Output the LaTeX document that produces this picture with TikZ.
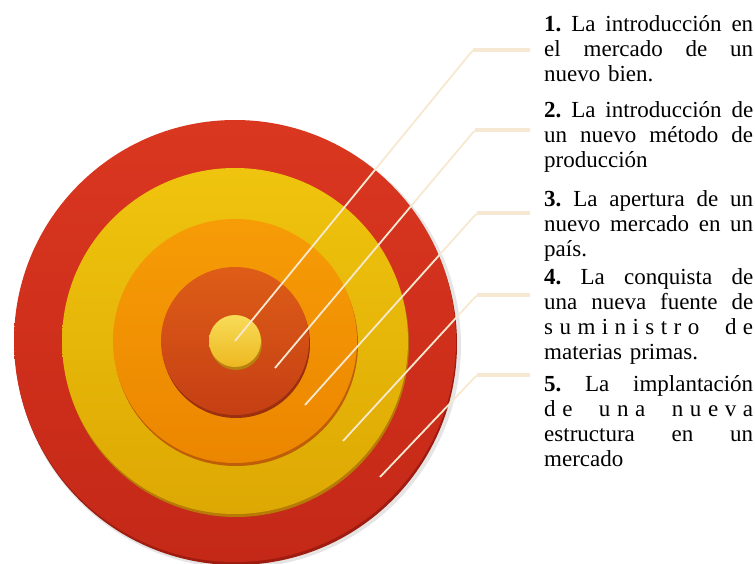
\documentclass[tikz,border=0pt]{standalone}
\usepackage{fontspec}
\setmainfont{Liberation Serif}

\definecolor{redTop}{HTML}{DA3720}
\definecolor{redBot}{HTML}{C42817}
\definecolor{redRim}{HTML}{9E1C10}
\definecolor{goldTop}{HTML}{EFC40E}
\definecolor{goldBot}{HTML}{DDA803}
\definecolor{goldRim}{HTML}{B77A06}
\definecolor{orangeTop}{HTML}{F69C06}
\definecolor{orangeBot}{HTML}{EC8600}
\definecolor{orangeRim}{HTML}{BF5E08}
\definecolor{rustTop}{HTML}{DE5D17}
\definecolor{rustBot}{HTML}{C53F14}
\definecolor{rustRim}{HTML}{9A3010}
\definecolor{dotTop}{HTML}{F8DC58}
\definecolor{dotBot}{HTML}{EDB821}
\definecolor{dotRim}{HTML}{B98210}
\definecolor{leaderCream}{HTML}{F7E8D0}
\definecolor{leaderTan}{HTML}{E9CDA6}

% one disc of the target: radius, top, bottom, rim colour
\newcommand{\targetdisc}[4]{%
  \fill[#4] (236,344) circle (#1pt);
  \shade[top color=#2, bottom color=#3] (235,341) circle (#1pt);}

% a justified line of a list item (spaces stretch to fill it)
\newcommand{\fullline}[1]{%
  \makebox[209pt][s]{\spaceskip=.25em plus 1fil minus .05em\relax #1}\\}
% gaps for the letter-spaced lines
\newcommand{\lgap}{\hspace{0pt plus 1fil}}
\newcommand{\wgap}{\hspace{0pt plus 4fil}}

\begin{document}
\begin{tikzpicture}[x=1pt,y=-1pt,
    itemtext/.style={anchor=base west, inner sep=0pt, text width=209pt,
      font=\fontsize{23}{25}\selectfont\frenchspacing},
    leader/.style={draw=leaderCream, line width=1.8pt, rounded corners=3pt},
    leaderglow/.style={draw=leaderTan, line width=4.5pt, opacity=.45}]
  \useasboundingbox (0,0) rectangle (755,564);

  % soft shadow under the target
  \fill[black, opacity=.10] (238,345) circle (223pt);

  % the target, from outside in
  \targetdisc{221}{redTop}{redBot}{redRim}
  \targetdisc{173}{goldTop}{goldBot}{goldRim}
  \targetdisc{122}{orangeTop}{orangeBot}{orangeRim}
  \targetdisc{74}{rustTop}{rustBot}{rustRim}
  \targetdisc{26}{dotTop}{dotBot}{dotRim}

  % list items
  \node[itemtext] (t1) at (544,32) {%
    \fullline{\textbf{1.} La introducción en}
    \fullline{el mercado de un}
    nuevo bien.};
  \node[itemtext] (t2) at (544,118) {%
    \fullline{\textbf{2.} La introducción de}
    \fullline{un nuevo método de}
    producción};
  \node[itemtext] (t3) at (544,207) {%
    \fullline{\textbf{3.} La apertura de un}
    \fullline{nuevo mercado en un}
    país.};
  \node[itemtext] (t4) at (544,284) {%
    \fullline{\textbf{4.} La conquista de}
    \fullline{una nueva fuente de}
    \fullline{s\lgap u\lgap m\lgap i\lgap n\lgap i\lgap s\lgap t\lgap r\lgap o\wgap d\lgap e}
    materias primas.};
  \node[itemtext] (t5) at (544,391) {%
    \fullline{\textbf{5.} La implantación}
    \fullline{d\lgap e\wgap u\lgap n\lgap a\wgap n\lgap u\lgap e\lgap v\lgap a}
    \fullline{estructura en un}
    mercado};

  % leader lines: end in the ring, bend, run to the text
  \foreach \i/\ex/\ey/\kx/\ky in {1/235/341/473/50, 2/275/368/475/130,
      3/305/405/477/213, 4/343/441/477/295, 5/380/477/477/375} {
    \coordinate (e\i) at (\ex,\ey);
    \coordinate (k\i) at (\kx,\ky);
    \coordinate (h\i) at ([xshift=-14pt]t\i.west |- k\i);
    \draw[leaderglow] (k\i) -- (h\i);
    \draw[leader] (e\i) -- (k\i) -- (h\i);
  }
\end{tikzpicture}
\end{document}
